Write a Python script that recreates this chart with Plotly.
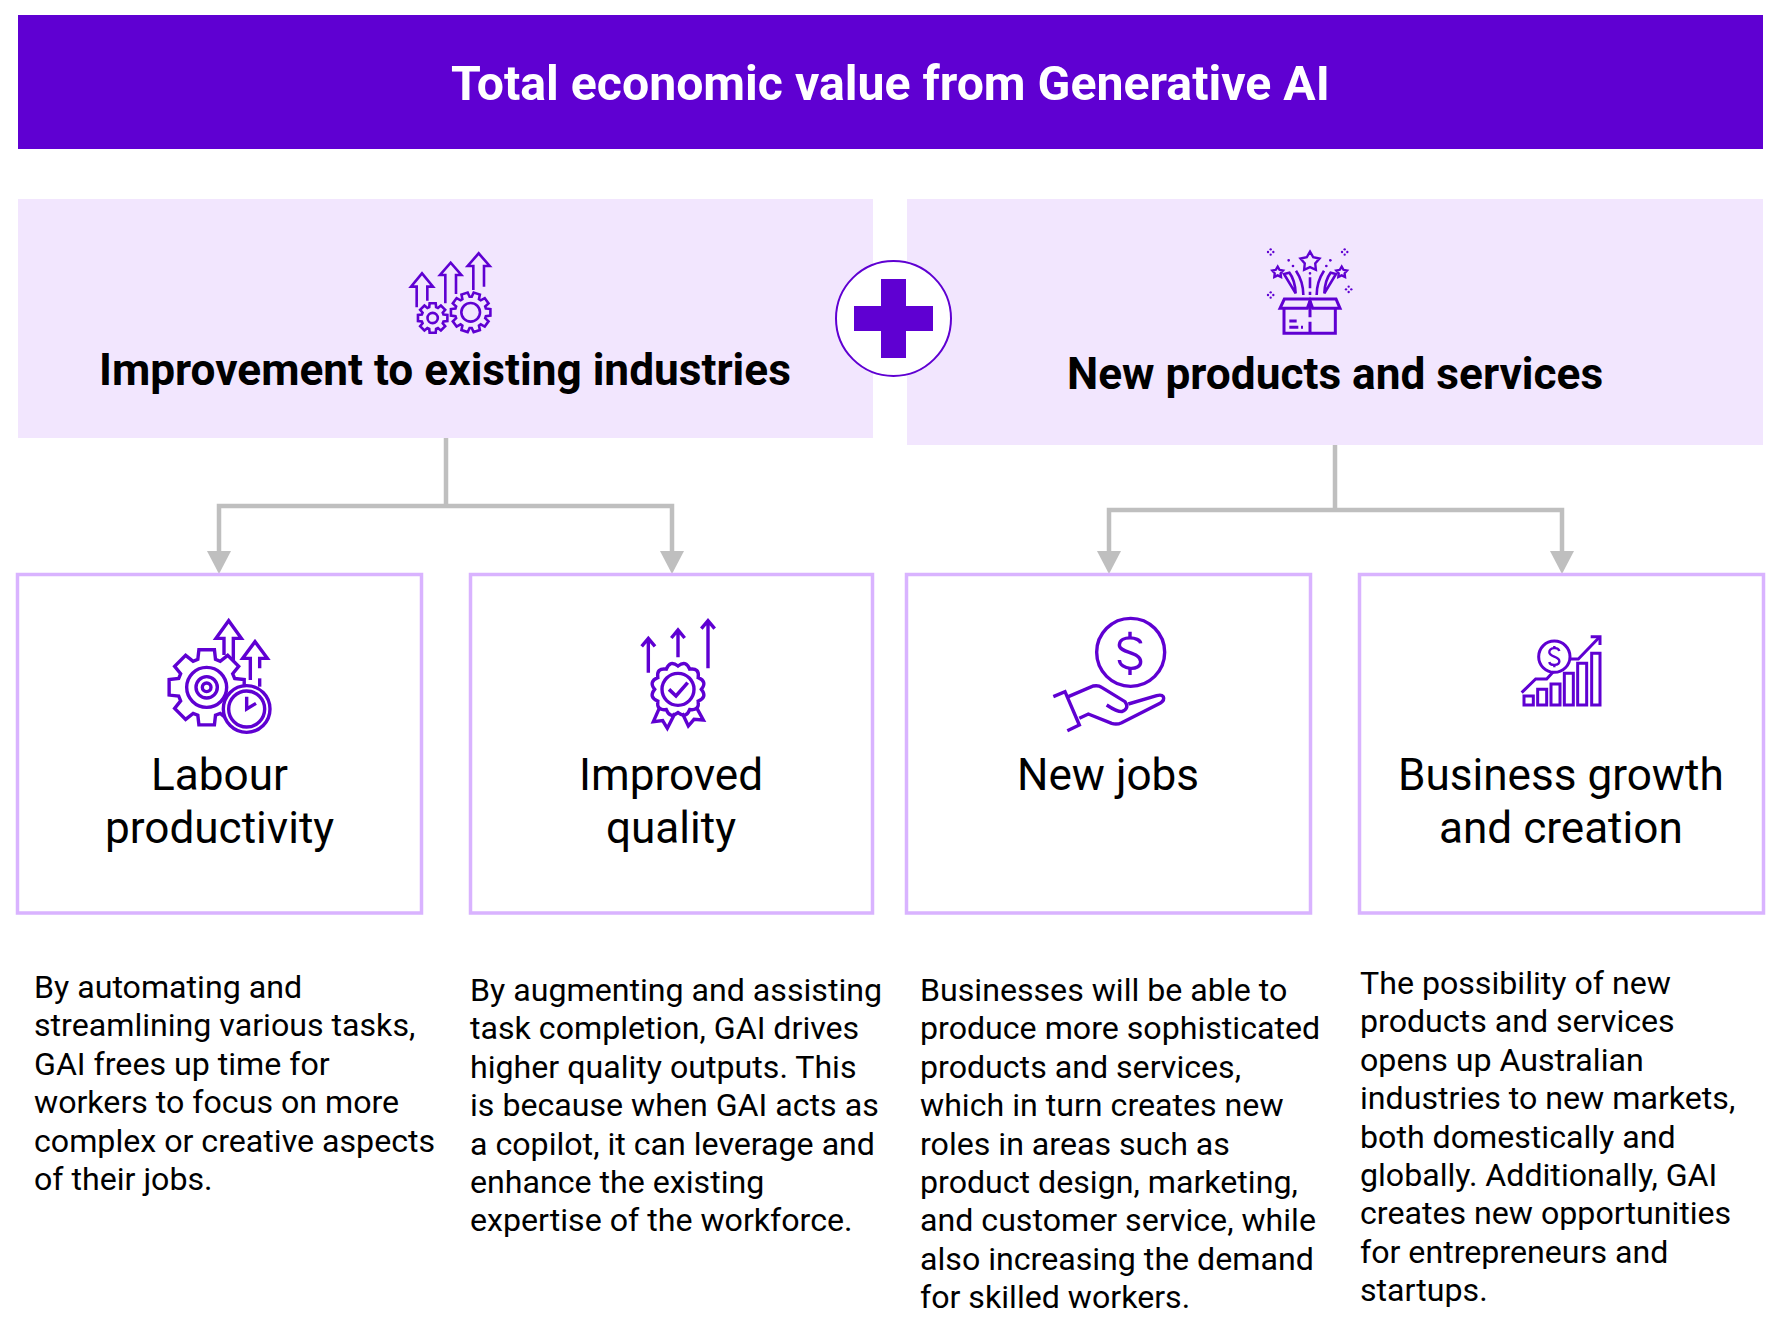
import math
import re
import plotly.graph_objects as go

# Text content
banner_title = "Total economic value from Generative AI"
panel_titles = ["Improvement to existing industries", "New products and services"]
box_titles = [["Labour", "productivity"], ["Improved", "quality"], ["New jobs"], ["Business growth", "and creation"]]
body_text = [
    ["By automating and", "streamlining various tasks,", "GAI frees up time for", "workers to focus on more",
     "complex or creative aspects", "of their jobs."],
    ["By augmenting and assisting", "task completion, GAI drives", "higher quality outputs. This",
     "is because when GAI acts as", "a copilot, it can leverage and", "enhance the existing",
     "expertise of the workforce."],
    ["Businesses will be able to", "produce more sophisticated", "products and services,",
     "which in turn creates new", "roles in areas such as", "product design, marketing,",
     "and customer service, while", "also increasing the demand", "for skilled workers."],
    ["The possibility of new", "products and services", "opens up Australian", "industries to new markets,",
     "both domestically and", "globally. Additionally, GAI", "creates new opportunities",
     "for entrepreneurs and", "startups."],
]

# Layout (page pixels; the browser puts the plot 8px in from the corner)
W, H = 1778, 1320
PAGE_MARGIN = 8
PURPLE = "#5F00D2"
LILAC = "#F2E6FE"
BORDER = "#D9B3FF"
GREY = "#BFBFBF"
box_x0 = [17, 470, 906, 1359]
box_x1 = [422, 873, 1311, 1764]
body_x = [32, 468, 918, 1358]
body_y = [987, 990, 990, 983]
line_step = 38.4

shapes = []
notes = []


def text(x, y, s, size, color="black", bold=False, anchor="center"):
    notes.append(dict(x=x, y=y, text=f"<b>{s}</b>" if bold else s, showarrow=False, xanchor=anchor,
                      yanchor="middle", font=dict(family="Roboto", size=size, color=color)))


def rect(x0, y0, x1, y1, fill, line=None, lw=0):
    shapes.append(dict(type="rect", x0=x0, y0=y0, x1=x1, y1=y1, fillcolor=fill,
                       line=dict(color=line, width=lw) if line else dict(width=0)))


def path(d, ox=0, oy=0, s=1.0, lw=3, fill=None, color=PURPLE):
    # path is written in zoomed local coordinates, map it to page pixels
    nums = iter(range(10 ** 6))

    def conv(m):
        v = float(m.group())
        return f"{(v * s + ox) if next(nums) % 2 == 0 else (v * s + oy):.2f}"

    d = re.sub(r"-?\d+\.?\d*", conv, d)
    shapes.append(dict(type="path", path=d, fillcolor=fill or "rgba(0,0,0,0)",
                       line=dict(color=color, width=lw) if lw else dict(width=0)))


def circle(cx, cy, r, ox, oy, s, lw=3, fill=None, color=PURPLE):
    shapes.append(dict(type="circle", x0=cx * s + ox - r * s, x1=cx * s + ox + r * s,
                       y0=cy * s + oy - r * s, y1=cy * s + oy + r * s, fillcolor=fill or "rgba(0,0,0,0)",
                       line=dict(color=color, width=lw) if lw else dict(width=0)))


def gear(cx, cy, r_base, r_tip, teeth, ox, oy, s, lw=3):
    pts = []
    step = 2 * math.pi / teeth
    for i in range(teeth):
        a = i * step
        for da, r in ((-0.30, r_base), (-0.20, r_tip), (0.20, r_tip), (0.30, r_base)):
            pts.append((cx + r * math.cos(a + da * step * 1.3), cy + r * math.sin(a + da * step * 1.3)))
    d = "M" + " L".join(f"{x:.1f},{y:.1f}" for x, y in pts) + " Z"
    path(d, ox, oy, s, lw)


def arrow_outline(tip_x, tip_y, half, head_y, gap, y_left, y_right, ox, oy, s, lw=3):
    d = (f"M{tip_x - gap},{y_left} L{tip_x - gap},{head_y} L{tip_x - half},{head_y} L{tip_x},{tip_y} "
         f"L{tip_x + half},{head_y} L{tip_x + gap},{head_y} L{tip_x + gap},{y_right}")
    path(d, ox, oy, s, lw)


def star(cx, cy, r, ox, oy, s, lw=2.4):
    pts = []
    for i in range(10):
        a = -math.pi / 2 + i * math.pi / 5
        rr = r if i % 2 == 0 else r * 0.55
        pts.append((cx + rr * math.cos(a), cy + rr * math.sin(a)))
    path("M" + " L".join(f"{x:.1f},{y:.1f}" for x, y in pts) + " Z", ox, oy, s, lw)


# Top banner and the two panels
rect(18, 15, 1763, 149, PURPLE)
text(890, 83, banner_title, 48.2, "white", True)
rect(18, 199, 873, 438, LILAC)
rect(907, 199, 1763, 445, LILAC)
text(445, 370, panel_titles[0], 44.2, "black", True)
text(1335, 374, panel_titles[1], 44.2, "black", True)

# Plus badge
shapes.append(dict(type="circle", x0=836, x1=951, y0=261, y1=376, fillcolor="white",
                   line=dict(color=PURPLE, width=2)))
rect(854, 306, 933, 331, PURPLE)
rect(881, 279, 906, 358, PURPLE)

# Connectors
for cx, top, mid, lefts in ((446, 438, 506, (219, 672)), (1335, 445, 510, (1109, 1562))):
    path(f"M{cx},{top} L{cx},{mid}", lw=4.5, color=GREY)
    path(f"M{lefts[0]},552 L{lefts[0]},{mid} L{lefts[1]},{mid} L{lefts[1]},552", lw=4.5, color=GREY)
    for ax in lefts:
        path(f"M{ax - 12},551 L{ax + 12},551 L{ax},574 Z", lw=0, fill=GREY)

# Four boxes with titles and body text
for i in range(4):
    rect(box_x0[i] + 0.5, 574.5, box_x1[i] - 0.5, 913, "white", BORDER, 3.5)
    mid = (box_x0[i] + box_x1[i]) / 2 - 0.5
    for j, line in enumerate(box_titles[i]):
        text(mid, 775 + j * 53, line, 44.1)
    for j, line in enumerate(body_text[i]):
        text(body_x[i], body_y[i] + j * line_step, line, 32.15, anchor="left")

# Icon: arrows and two gears
o = (380, 220, 1 / 3)
arrow_outline(126, 160, 33, 200, 16, 262, 242, *o, lw=2.6)
arrow_outline(212, 128, 32, 165, 16, 250, 222, *o, lw=2.6)
arrow_outline(296, 100, 33, 138, 16, 210, 200, *o, lw=2.6)
gear(158, 294, 34, 45, 8, *o, lw=2.6)
circle(158, 294, 15.5, *o, lw=2.6)
gear(272, 277, 47, 60, 10, *o, lw=2.6)
circle(272, 277, 28, *o, lw=2.6)

# Icon: gift box
o = (1230, 230, 1 / 3)
star(240, 95, 30, *o)
star(143, 127, 17, *o)
star(335, 127, 17, *o)
for cx, cy in ((122, 66), (344, 66), (122, 195), (356, 178)):
    for dx, dy in ((-8, 0), (8, 0), (0, -8), (0, 8)):
        circle(cx + dx, cy + dy, 3.5, *o, lw=0, fill=PURPLE)
for cx, cy in ((176, 91), (189, 108), (301, 91), (289, 108), (240, 130)):
    circle(cx, cy, 4, *o, lw=0, fill=PURPLE)
path("M240,142 L240,175 M240,185 L240,195", *o, lw=2.6)
path("M198,122 Q220,155 220,195", *o, lw=2.6)
path("M282,122 Q260,155 260,195", *o, lw=2.6)
path("M162,132 L197,190 Q195,150 178,128 Z", *o, lw=2.6)
path("M318,132 L283,190 Q285,150 302,128 Z", *o, lw=2.6)
path("M150,235 L163,207 L318,207 L330,235 L248,235 L240,213 L232,235 Z", *o)
path("M162,235 L162,310 L316,310 L316,235 M240,213 L240,262 M240,275 L240,310", *o)
path("M178,273 L200,273 M178,292 L205,292 M213,292 L219,292", *o)

# Icon: gear, clock and arrows
o = (150, 600, 1 / 3)
arrow_outline(236, 62, 38, 115, 14, 165, 180, *o, lw=3.4)
arrow_outline(315, 125, 37, 175, 14, 240, 205, *o, lw=3.4)
path("M329,235 L329,260", *o, lw=3.4)
gear(170, 262, 88, 115, 8, *o, lw=3.4)
circle(170, 262, 60, *o, lw=3.4)
circle(170, 262, 32, *o, lw=3.4)
circle(170, 262, 13, *o, lw=3.4)
circle(290, 327, 70, *o, lw=3.4, fill="white")
circle(290, 327, 54, *o, lw=3.4)
path("M290,290 L290,327 L318,310", *o, lw=3.4)

# Icon: badge and arrows
o = (620, 600, 1 / 3)
for ax, y0, y1 in ((85, 218, 115), (174, 172, 90), (264, 205, 62)):
    path(f"M{ax},{y0} L{ax},{y1} M{ax - 20},{y1 + 24} L{ax},{y1} L{ax + 20},{y1 + 24}", *o, lw=3.4)
scallop = []
for i in range(12):
    a0 = i * math.pi / 6
    a1 = a0 + math.pi / 12
    a2 = a0 + math.pi / 6
    pt0 = (174 + 70 * math.cos(a0), 268 + 70 * math.sin(a0))
    ctrl = (174 + 92 * math.cos(a1), 268 + 92 * math.sin(a1))
    pt2 = (174 + 70 * math.cos(a2), 268 + 70 * math.sin(a2))
    if i == 0:
        scallop.append(f"M{pt0[0]:.1f},{pt0[1]:.1f}")
    scallop.append(f"Q{ctrl[0]:.1f},{ctrl[1]:.1f} {pt2[0]:.1f},{pt2[1]:.1f}")
path(" ".join(scallop) + " Z", *o, lw=3.4)
circle(174, 268, 48, *o, lw=3.4)
path("M147,268 L168,288 L203,248", *o, lw=3.6)
path("M120,320 L100,365 L128,362 L142,385 L165,340", *o, lw=3.4)
path("M228,320 L250,360 L222,358 L205,378 L187,340", *o, lw=3.4)

# Icon: hand and coin
o = (1030, 600, 1 / 3)
circle(302, 157, 102, *o, lw=3.4)
path("M332,130 C330,110 270,105 268,135 C268,160 332,155 332,185 C332,215 270,210 268,180", *o, lw=3.4)
path("M300,95 L300,112 M300,205 L300,225", *o, lw=3.4)
path("M70,290 L105,275 L148,375 L112,392", *o, lw=3.4)
path("M115,290 L190,258 Q205,255 215,262 L285,305 Q300,325 275,335 Q260,335 230,315", *o, lw=3.4)
path("M148,355 L175,342 L245,370 Q260,375 275,368 L390,310 Q405,300 400,290 Q395,283 380,287 L295,312", *o, lw=3.4)

# Icon: bars and coin
o = (1500, 620, 1 / 3)
for x0, x1, y0 in ((72, 100, 228), (113, 140, 208), (153, 180, 192), (193, 220, 160), (233, 260, 130), (275, 300, 100)):
    path(f"M{x0},{y0} L{x1},{y0} L{x1},255 L{x0},255 Z", *o)
circle(163, 110, 47, *o)
path("M178,93 C175,80 148,82 148,97 C148,112 178,108 178,124 C178,138 150,138 148,126", *o, lw=2.4)
path("M163,78 L163,85 M163,134 L163,142", *o, lw=2.4)
path("M65,218 L107,177 L140,177 L160,155 M212,117 L235,117 L298,52", *o)
path("M272,50 L300,50 L300,75", *o)

fig = go.Figure()
fig.update_layout(
    width=W - PAGE_MARGIN, height=H - PAGE_MARGIN, margin=dict(l=0, r=0, t=0, b=0),
    paper_bgcolor="white", plot_bgcolor="white", showlegend=False,
    xaxis=dict(range=[PAGE_MARGIN, W], visible=False, fixedrange=True),
    yaxis=dict(range=[H, PAGE_MARGIN], visible=False, fixedrange=True),
    shapes=shapes, annotations=notes,
)
fig.write_html("out.html")
